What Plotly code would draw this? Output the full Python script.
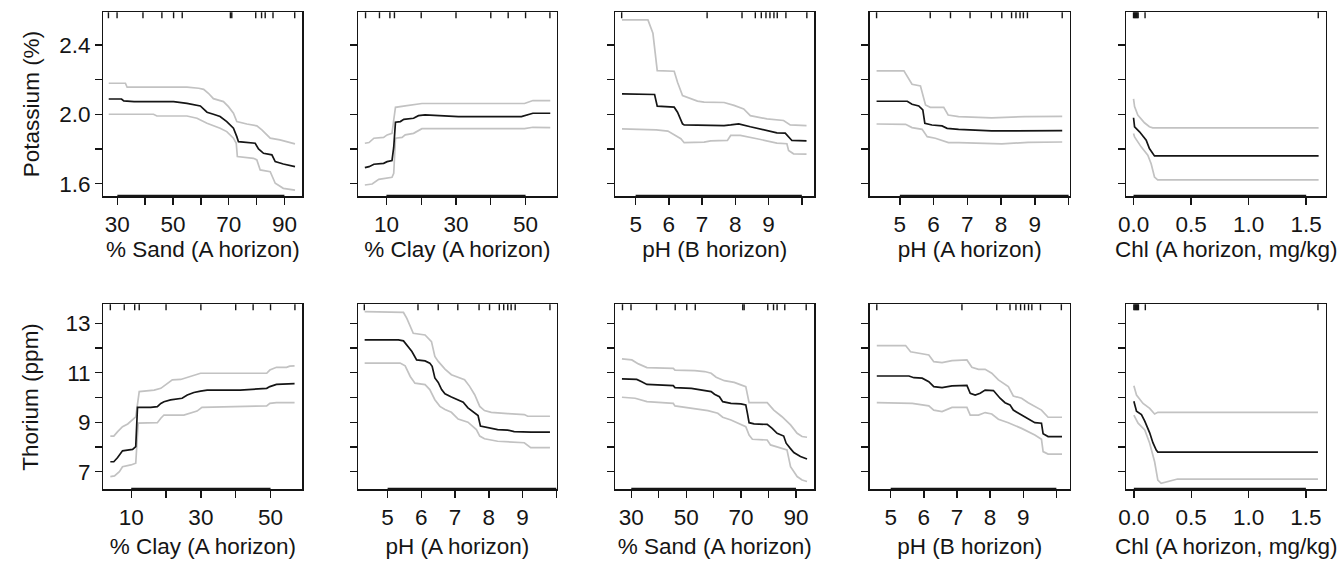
import plotly.graph_objects as go

# ---------------- DATA ----------------
# Panel 1: Potassium vs % Sand (A horizon)
k_sand_x = [26.9, 31.5, 32.3, 36.0, 50.2, 55.0, 59.8, 62.2, 64.5, 66.9, 69.3, 71.7, 72.9, 73.5, 79.5, 80.7, 82.5, 85.5, 86.7, 89.6, 93.8]
k_sand_mean = [2.088, 2.088, 2.077, 2.073, 2.073, 2.063, 2.048, 2.012, 2.000, 1.987, 1.958, 1.920, 1.871, 1.842, 1.833, 1.800, 1.775, 1.766, 1.727, 1.713, 1.698]
k_sand_up_x = [26.9, 32.9, 33.5, 55.0, 59.2, 61.0, 62.7, 64.5, 68.1, 69.9, 71.7, 72.9, 76.5, 80.1, 81.9, 84.9, 88.4, 93.8]
k_sand_up = [2.179, 2.179, 2.156, 2.156, 2.150, 2.144, 2.121, 2.090, 2.073, 2.044, 2.006, 1.958, 1.944, 1.933, 1.910, 1.862, 1.852, 1.829]
k_sand_lo_x = [26.9, 43.0, 44.2, 55.0, 58.6, 62.2, 66.9, 69.3, 71.7, 72.7, 73.1, 78.9, 80.1, 81.3, 84.9, 86.7, 89.6, 93.8]
k_sand_lo = [2.000, 2.000, 1.990, 1.990, 1.977, 1.948, 1.919, 1.900, 1.862, 1.833, 1.756, 1.746, 1.737, 1.679, 1.669, 1.602, 1.573, 1.563]

# Panel 2: Potassium vs % Clay (A horizon)
k_clay_x = [3.8, 5.0, 6.4, 9.2, 10.2, 11.6, 12.1, 12.6, 14.0, 15.0, 17.8, 19.2, 21.1, 30.7, 48.8, 50.7, 52.1, 57.1]
k_clay_mean = [1.692, 1.698, 1.712, 1.717, 1.727, 1.733, 1.810, 1.954, 1.958, 1.971, 1.977, 1.992, 1.996, 1.987, 1.987, 1.996, 2.006, 2.006]
k_clay_up_x = [3.8, 5.0, 6.4, 9.2, 10.2, 11.6, 12.1, 12.6, 15.4, 18.3, 20.2, 49.7, 52.1, 57.1]
k_clay_up = [1.833, 1.837, 1.862, 1.867, 1.881, 1.890, 1.967, 2.040, 2.048, 2.054, 2.062, 2.062, 2.079, 2.079]
k_clay_lo_x = [3.8, 5.9, 7.8, 9.7, 11.6, 12.1, 12.6, 14.5, 15.4, 17.8, 20.2, 49.7, 52.1, 57.1]
k_clay_lo = [1.592, 1.598, 1.625, 1.631, 1.637, 1.660, 1.862, 1.867, 1.881, 1.890, 1.917, 1.917, 1.925, 1.923]

# Panel 3: Potassium vs pH (B horizon)
k_phb_x = [4.59, 5.57, 5.65, 6.16, 6.26, 6.41, 6.46, 7.66, 7.86, 8.10, 8.45, 8.75, 9.05, 9.25, 9.50, 9.70, 10.14]
k_phb_mean = [2.118, 2.114, 2.047, 2.041, 2.012, 1.945, 1.939, 1.935, 1.939, 1.945, 1.928, 1.916, 1.903, 1.893, 1.891, 1.849, 1.847]
k_phb_up_x = [4.59, 5.37, 5.52, 5.65, 6.16, 6.26, 6.41, 6.86, 7.06, 7.66, 7.96, 8.25, 8.45, 8.95, 9.45, 9.65, 10.14]
k_phb_up = [2.544, 2.544, 2.467, 2.252, 2.248, 2.185, 2.108, 2.076, 2.070, 2.068, 2.051, 2.031, 1.992, 1.973, 1.964, 1.939, 1.935]
k_phb_lo_x = [4.59, 5.62, 5.97, 6.36, 6.46, 7.06, 7.26, 7.76, 7.86, 8.15, 8.65, 9.25, 9.55, 9.60, 9.75, 10.14]
k_phb_lo = [1.916, 1.910, 1.903, 1.859, 1.836, 1.839, 1.847, 1.849, 1.878, 1.878, 1.859, 1.834, 1.830, 1.791, 1.772, 1.770]

# Panel 4: Potassium vs pH (A horizon)
k_pha_x = [4.31, 5.22, 5.36, 5.56, 5.68, 5.74, 5.95, 6.25, 6.40, 6.74, 7.72, 8.80, 9.81]
k_pha_mean = [2.075, 2.075, 2.058, 2.048, 2.025, 1.948, 1.938, 1.933, 1.919, 1.913, 1.904, 1.906, 1.906]
k_pha_up_x = [4.31, 5.12, 5.36, 5.61, 5.76, 5.90, 6.30, 6.43, 6.74, 7.72, 8.71, 9.81]
k_pha_up = [2.250, 2.250, 2.173, 2.163, 2.054, 2.040, 2.040, 1.996, 1.987, 1.979, 1.987, 1.988]
k_pha_lo_x = [4.31, 5.17, 5.36, 5.66, 5.81, 6.05, 6.44, 6.74, 8.02, 8.80, 9.81]
k_pha_lo = [1.944, 1.942, 1.923, 1.913, 1.871, 1.862, 1.837, 1.837, 1.829, 1.838, 1.840]

# Panel 5: Potassium vs Chl (A horizon, mg/kg)
k_chl_x = [0.0, 0.009, 0.052, 0.110, 0.138, 0.167, 0.182, 1.608]
k_chl_mean = [1.980, 1.928, 1.899, 1.851, 1.802, 1.769, 1.760, 1.760]
k_chl_up_x = [0.0, 0.009, 0.037, 0.095, 0.138, 0.167, 1.608]
k_chl_up = [2.089, 2.044, 1.996, 1.951, 1.928, 1.922, 1.922]
k_chl_lo_x = [0.0, 0.009, 0.066, 0.124, 0.153, 0.182, 0.210, 1.608]
k_chl_lo = [1.889, 1.869, 1.812, 1.764, 1.715, 1.638, 1.622, 1.622]

# Panel 6: Thorium vs % Clay (A horizon)
th_clay_x = [4.0, 5.0, 6.1, 7.5, 9.4, 10.4, 11.3, 11.8, 15.6, 17.5, 18.5, 19.4, 21.3, 23.2, 24.6, 26.1, 28.0, 29.9, 31.8, 41.3, 48.9, 49.8, 51.7, 56.9]
th_clay_mean = [7.40, 7.40, 7.57, 7.84, 7.88, 7.90, 8.01, 9.60, 9.60, 9.63, 9.76, 9.83, 9.90, 9.94, 9.97, 10.10, 10.20, 10.26, 10.30, 10.30, 10.37, 10.44, 10.53, 10.56]
th_clay_up_x = [4.0, 5.0, 6.1, 7.5, 9.0, 10.4, 11.3, 12.3, 16.6, 18.5, 19.4, 21.8, 24.2, 27.0, 28.9, 29.9, 48.9, 49.8, 51.7, 54.6, 55.5, 56.9]
th_clay_up = [8.44, 8.44, 8.62, 8.82, 8.93, 9.09, 9.22, 10.24, 10.30, 10.37, 10.47, 10.71, 10.73, 10.84, 10.91, 10.98, 10.98, 11.11, 11.22, 11.22, 11.27, 11.28]
th_clay_lo_x = [4.0, 5.2, 6.6, 7.5, 9.9, 11.3, 12.0, 17.5, 18.5, 19.4, 25.1, 27.0, 28.9, 30.3, 48.9, 49.8, 51.7, 56.9]
th_clay_lo = [6.80, 6.83, 7.00, 7.20, 7.27, 7.34, 8.96, 8.98, 9.16, 9.29, 9.29, 9.36, 9.45, 9.60, 9.66, 9.76, 9.79, 9.79]

# Panel 7: Thorium vs pH (A horizon)
th_pha_x = [4.32, 5.32, 5.47, 5.57, 5.72, 5.86, 6.11, 6.25, 6.32, 6.40, 6.50, 6.60, 6.70, 6.89, 7.09, 7.24, 7.38, 7.58, 7.68, 7.75, 7.87, 8.07, 8.26, 8.56, 8.75, 9.25, 9.81]
th_pha_mean = [12.33, 12.33, 12.29, 12.13, 11.86, 11.52, 11.48, 11.39, 11.26, 10.79, 10.61, 10.32, 10.15, 10.02, 9.91, 9.81, 9.58, 9.38, 9.27, 8.84, 8.80, 8.75, 8.70, 8.68, 8.62, 8.60, 8.60]
th_pha_up_x = [4.32, 5.47, 5.57, 5.67, 5.76, 6.11, 6.30, 6.40, 6.50, 6.70, 6.89, 7.28, 7.43, 7.58, 7.73, 7.87, 8.07, 8.56, 9.05, 9.15, 9.81]
th_pha_up = [13.47, 13.44, 13.20, 12.87, 12.60, 12.53, 12.26, 11.66, 11.46, 11.15, 10.92, 10.72, 10.45, 10.11, 9.64, 9.47, 9.40, 9.35, 9.31, 9.24, 9.24]
th_pha_lo_x = [4.32, 5.37, 5.52, 5.67, 5.81, 6.11, 6.25, 6.40, 6.55, 6.70, 6.89, 7.09, 7.38, 7.63, 7.73, 7.87, 8.26, 8.85, 9.05, 9.24, 9.81]
th_pha_lo = [11.39, 11.39, 11.28, 10.85, 10.58, 10.52, 10.32, 9.91, 9.64, 9.51, 9.40, 9.13, 9.00, 8.70, 8.44, 8.33, 8.23, 8.19, 8.17, 7.97, 7.97]

# Panel 8: Thorium vs % Sand (A horizon)
th_sand_x = [26.6, 32.0, 33.8, 35.7, 45.3, 45.9, 51.9, 54.3, 56.7, 59.1, 60.3, 62.1, 63.3, 66.3, 69.9, 71.7, 72.3, 72.9, 74.7, 79.5, 81.3, 83.1, 85.5, 86.4, 87.9, 89.2, 91.6, 94.0]
th_sand_mean = [10.75, 10.73, 10.64, 10.53, 10.48, 10.40, 10.37, 10.33, 10.26, 10.24, 10.13, 10.03, 9.83, 9.76, 9.74, 9.70, 9.36, 8.98, 8.93, 8.91, 8.75, 8.55, 8.44, 8.15, 7.94, 7.77, 7.61, 7.51]
th_sand_up_x = [26.6, 30.2, 32.6, 35.7, 45.3, 45.9, 53.1, 56.7, 59.1, 60.9, 63.9, 67.5, 69.9, 71.7, 72.9, 79.5, 81.9, 84.9, 88.0, 90.4, 92.2, 94.0]
th_sand_up = [11.56, 11.52, 11.36, 11.21, 11.18, 11.11, 11.09, 11.05, 10.98, 10.82, 10.68, 10.61, 10.51, 10.44, 9.79, 9.79, 9.49, 9.22, 8.89, 8.55, 8.42, 8.39]
th_sand_lo_x = [26.6, 31.4, 35.7, 45.3, 45.9, 53.1, 57.9, 61.5, 63.3, 66.3, 69.9, 71.7, 72.9, 74.1, 79.5, 80.7, 86.7, 88.0, 90.4, 92.2, 94.0]
th_sand_lo = [10.01, 9.97, 9.83, 9.76, 9.66, 9.56, 9.47, 9.36, 9.20, 9.09, 8.93, 8.82, 8.48, 8.31, 8.28, 8.08, 7.88, 7.20, 6.80, 6.66, 6.60]

# Panel 9: Thorium vs pH (B horizon)
th_phb_x = [4.58, 5.55, 5.70, 5.95, 6.15, 6.30, 6.55, 6.85, 7.30, 7.40, 7.55, 7.70, 7.85, 8.10, 8.30, 8.45, 8.60, 8.70, 8.95, 9.15, 9.35, 9.55, 9.60, 9.75, 10.17]
th_phb_mean = [10.87, 10.87, 10.80, 10.78, 10.64, 10.44, 10.40, 10.47, 10.49, 10.17, 10.10, 10.17, 10.30, 10.28, 9.97, 9.79, 9.70, 9.49, 9.29, 9.12, 8.98, 8.96, 8.53, 8.42, 8.42]
th_phb_up_x = [4.58, 5.45, 5.60, 6.15, 6.30, 6.55, 6.85, 7.30, 7.45, 7.65, 7.85, 8.05, 8.25, 8.55, 8.70, 8.95, 9.15, 9.35, 9.55, 9.75, 10.17]
th_phb_up = [12.10, 12.10, 11.85, 11.72, 11.45, 11.41, 11.49, 11.52, 11.22, 11.14, 11.14, 10.98, 10.71, 10.44, 10.06, 9.97, 9.79, 9.63, 9.49, 9.20, 9.20]
th_phb_lo_x = [4.58, 5.65, 6.15, 6.30, 6.55, 6.85, 7.30, 7.40, 7.65, 7.85, 8.05, 8.25, 8.55, 8.95, 9.35, 9.55, 9.60, 9.75, 10.17]
th_phb_lo = [9.79, 9.76, 9.66, 9.49, 9.43, 9.60, 9.60, 9.29, 9.29, 9.39, 9.33, 9.12, 8.98, 8.75, 8.48, 8.31, 7.81, 7.71, 7.71]

# Panel 10: Thorium vs Chl (A horizon, mg/kg)
th_chl_x = [0.0, 0.023, 0.066, 0.095, 0.138, 0.166, 0.195, 0.209, 1.605]
th_chl_mean = [9.85, 9.44, 9.31, 9.04, 8.57, 8.17, 7.87, 7.79, 7.79]
th_chl_up_x = [0.0, 0.023, 0.080, 0.138, 0.181, 0.209, 1.605]
th_chl_up = [10.47, 10.10, 9.76, 9.56, 9.33, 9.40, 9.40]
th_chl_lo_x = [0.0, 0.037, 0.095, 0.138, 0.181, 0.209, 0.238, 0.295, 0.381, 1.605]
th_chl_lo = [9.29, 8.96, 8.69, 8.15, 7.40, 6.66, 6.53, 6.60, 6.70, 6.70]

# Rug (deciles of predictor)
sand_rug = [26.8, 29.9, 39.2, 46.0, 50.2, 53.3, 70.6, 71.1, 79.7, 81.8, 83.1, 85.9, 93.7]
clay_rug = [4.0, 8.0, 11.0, 12.3, 20.0, 30.0, 40.0, 45.0, 50.0, 57.0]
pha_rug = [4.31, 5.90, 6.50, 7.08, 7.71, 8.02, 8.31, 8.44, 8.56, 8.66, 8.78, 9.81]
phb_rug = [4.58, 7.15, 8.20, 8.60, 8.78, 8.92, 9.04, 9.16, 9.26, 9.52, 10.15]
chl_rug = [0.0, 0.008, 0.016, 0.024, 0.032, 0.04, 0.10, 1.605]

# Ticks
sand_ticks = [30, 40, 50, 60, 70, 80, 90]
sand_labels = ["30", "", "50", "", "70", "", "90"]
clay_ticks = [10, 20, 30, 40, 50]
clay_labels = ["10", "", "30", "", "50"]
ph_ticks = [5, 6, 7, 8, 9, 10]
ph_labels = ["5", "6", "7", "8", "9", ""]
chl_ticks = [0.0, 0.5, 1.0, 1.5]
chl_labels = ["0.0", "0.5", "1.0", "1.5"]
k_ticks = [1.6, 1.8, 2.0, 2.2, 2.4]
k_labels = ["1.6", "", "2.0", "", "2.4"]
th_ticks = [7, 8, 9, 10, 11, 12, 13]
th_labels = ["7", "", "9", "", "11", "", "13"]

x_titles_top = ["% Sand (A horizon)", "% Clay (A horizon)", "pH (B horizon)", "pH (A horizon)", "Chl (A horizon, mg/kg)"]
x_titles_bot = ["% Clay (A horizon)", "pH (A horizon)", "% Sand (A horizon)", "pH (B horizon)", "Chl (A horizon, mg/kg)"]
y_title_top = "Potassium (%)"
y_title_bot = "Thorium (ppm)"

# ---------------- LAYOUT ----------------
W, H = 1341, 562
FONT = "Liberation Sans, Arial, Helvetica, sans-serif"
FS = 22.5
BLACK = "#151515"
GREY = "#c2c2c2"

col_px = [(96, 296), (352, 552), (611, 811), (867, 1068), (1125, 1326)]
row_px = [(12.3, 196.3), (304.3, 489.3)]
title_standoff = [4, 9]

panels = [
    (k_sand_x, k_sand_mean, k_sand_up_x, k_sand_up, k_sand_lo_x, k_sand_lo, sand_ticks, sand_labels, [25.0, 96.4], sand_rug, x_titles_top[0]),
    (k_clay_x, k_clay_mean, k_clay_up_x, k_clay_up, k_clay_lo_x, k_clay_lo, clay_ticks, clay_labels, [1.8, 58.95], clay_rug, x_titles_top[1]),
    (k_phb_x, k_phb_mean, k_phb_up_x, k_phb_up, k_phb_lo_x, k_phb_lo, ph_ticks, ph_labels, [4.39, 10.37], phb_rug, x_titles_top[2]),
    (k_pha_x, k_pha_mean, k_pha_up_x, k_pha_up, k_pha_lo_x, k_pha_lo, ph_ticks, ph_labels, [4.11, 10.03], pha_rug, x_titles_top[3]),
    (k_chl_x, k_chl_mean, k_chl_up_x, k_chl_up, k_chl_lo_x, k_chl_lo, chl_ticks, chl_labels, [-0.063, 1.673], chl_rug, x_titles_top[4]),
    (th_clay_x, th_clay_mean, th_clay_up_x, th_clay_up, th_clay_lo_x, th_clay_lo, clay_ticks, clay_labels, [2.02, 59.1], clay_rug, x_titles_bot[0]),
    (th_pha_x, th_pha_mean, th_pha_up_x, th_pha_up, th_pha_lo_x, th_pha_lo, ph_ticks, ph_labels, [4.12, 10.01], pha_rug, x_titles_bot[1]),
    (th_sand_x, th_sand_mean, th_sand_up_x, th_sand_up, th_sand_lo_x, th_sand_lo, sand_ticks, sand_labels, [24.2, 96.6], sand_rug, x_titles_bot[2]),
    (th_phb_x, th_phb_mean, th_phb_up_x, th_phb_up, th_phb_lo_x, th_phb_lo, ph_ticks, ph_labels, [4.37, 10.40], phb_rug, x_titles_bot[3]),
    (th_chl_x, th_chl_mean, th_chl_up_x, th_chl_up, th_chl_lo_x, th_chl_lo, chl_ticks, chl_labels, [-0.066, 1.676], chl_rug, x_titles_bot[4]),
]

fig = go.Figure()
layout = dict(
    width=W, height=H,
    margin=dict(l=0, r=0, t=0, b=0),
    paper_bgcolor="white", plot_bgcolor="white",
    showlegend=False,
    font=dict(family=FONT, size=FS, color=BLACK),
)
shapes = []
annotations = []

for i, p in enumerate(panels):
    mx, my, ux, uy, lx, ly, ticks, labels, xr, rug, xtitle = p
    n = i + 1
    row = 0 if i < 5 else 1
    col = i % 5
    xs = "" if n == 1 else str(n)
    xref, yref = "x" + xs, "y" + xs
    x0p, x1p = col_px[col]
    y0p, y1p = row_px[row]

    for (xx, yy, c) in [(ux, uy, GREY), (lx, ly, GREY), (mx, my, BLACK)]:
        fig.add_trace(go.Scatter(x=xx, y=yy, mode="lines", xaxis=xref, yaxis=yref,
                                 line=dict(color=c, width=1.7), hoverinfo="skip"))

    if row == 0:
        yr, yt, yl = [1.527, 2.588], k_ticks, k_labels
    else:
        yr, yt, yl = [6.285, 13.77], th_ticks, th_labels

    layout["xaxis" + xs] = dict(
        domain=[x0p / W, x1p / W], anchor=yref, range=xr,
        tickmode="array", tickvals=ticks, ticktext=labels,
        ticks="outside", ticklen=7, tickwidth=1.4, tickcolor=BLACK,
        showline=True, linecolor=BLACK, linewidth=1.4, mirror=True,
        showgrid=False, zeroline=False, fixedrange=True,
        tickfont=dict(family=FONT, size=FS, color=BLACK),
        title=dict(text=xtitle, font=dict(family=FONT, size=FS, color=BLACK),
                   standoff=title_standoff[row]),
    )
    layout["yaxis" + xs] = dict(
        domain=[1 - y1p / H, 1 - y0p / H], anchor=xref, range=yr,
        tickmode="array", tickvals=yt, ticktext=yl,
        showticklabels=(col == 0),
        ticks="outside", ticklen=7, tickwidth=1.4, tickcolor=BLACK,
        showline=True, linecolor=BLACK, linewidth=1.4, mirror=True,
        showgrid=False, zeroline=False, fixedrange=True,
        tickfont=dict(family=FONT, size=FS, color=BLACK),
    )

    # rug along top edge (inward ticks)
    for v in rug:
        shapes.append(dict(type="line", xref=xref, yref=yref + " domain",
                           x0=v, x1=v, y0=1, y1=1 - 6 / 184,
                           line=dict(color=BLACK, width=1.4)))
    # heavier axis line between first and last bottom ticks
    shapes.append(dict(type="line", xref=xref, yref=yref + " domain",
                       x0=ticks[0], x1=ticks[-1], y0=0, y1=0,
                       line=dict(color=BLACK, width=3)))

for (title, (y0p, y1p)) in [(y_title_top, row_px[0]), (y_title_bot, row_px[1])]:
    annotations.append(dict(text=title, textangle=-90, xref="paper", yref="paper",
                            x=23 / W, y=1 - (y0p + y1p) / 2 / H, showarrow=False,
                            xanchor="center", yanchor="middle",
                            font=dict(family=FONT, size=FS, color=BLACK)))

layout["shapes"] = shapes
layout["annotations"] = annotations
fig.update_layout(**layout)
fig.write_html("out.html",
               config={"displayModeBar": False, "staticPlot": True},
               post_script="document.body.style.margin='0px';document.body.style.overflow='hidden';")
